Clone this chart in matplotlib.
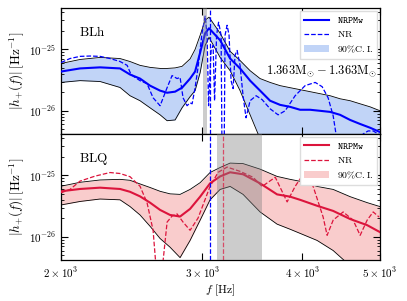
import matplotlib
matplotlib.use("Agg")
import matplotlib.pyplot as plt
from matplotlib.lines import Line2D
from matplotlib.patches import Patch
from matplotlib.ticker import NullLocator, NullFormatter, FixedLocator, LogLocator

# amplitudes are given in units of 1e-26 Hz^-1
UNIT = 1e-26

# ---- BLh (top panel) ----
f_blh = [2000, 2112, 2237, 2369, 2438, 2509, 2582, 2658, 2712, 2775, 2831, 2897, 2939,
         2982, 3025, 3059, 3158, 3250, 3344, 3442, 3542, 3645, 3751, 3861, 3973, 4089,
         4208, 4331, 4457, 4587, 4721, 4858, 5000]
blh_hi = [5.9, 6.85, 7.4, 7.1, 6.35, 5.5, 5.1, 4.9, 4.9, 5.0, 5.3, 7.0, 10.0,
          17.0, 29.9, 33.5, 18.3, 9.3, 6.6, 4.5, 3.35, 2.9, 2.57, 2.38, 2.21, 2.05,
          1.90, 1.76, 1.57, 1.46, 1.30, 1.16, 1.0]
blh_med = [4.36, 4.9, 5.1, 4.9, 3.9, 3.35, 2.57, 2.13, 1.97, 2.05, 2.38, 3.35, 4.36,
           8.9, 18.3, 22.1, 14.1, 7.1, 4.9, 3.1, 2.13, 1.46, 1.25, 1.16, 1.04, 1.04,
           1.0, 0.96, 0.86, 0.71, 0.61, 0.53, 0.45]
blh_lo = [2.9, 3.1, 3.0, 2.4, 1.76, 1.46, 1.12, 0.86, 0.69, 0.71, 1.12, 1.70, 2.13,
          4.2, 11.6, 15.7, 7.4, 4.5, 2.13, 0.86, 0.35, 0.25, 0.25, 0.25, 0.25, 0.25,
          0.25, 0.25, 0.25, 0.25, 0.25, 0.25, 0.25]

f_blh_nr = [2000, 2052, 2112, 2174, 2237, 2302, 2369, 2418, 2445, 2474, 2509, 2560, 2605,
            2658, 2712, 2751, 2791, 2815, 2839, 2872, 2897, 2914, 2939, 2964, 2999, 3025,
            3042, 3055, 3077, 3095, 3108, 3126, 3144, 3167, 3185, 3203, 3222, 3240, 3259,
            3278, 3296, 3316, 3344, 3373, 3402, 3442, 3502, 3563, 3645, 3730, 3806, 3917,
            4031, 4149, 4233, 4306, 4369, 4419, 4457, 4522, 4694, 4762, 4830, 4901, 4971, 5000]
blh_nr = [6.1, 7.1, 7.7, 7.8, 7.7, 7.1, 6.35, 5.5, 3.9, 3.5, 3.1, 2.77, 1.63,
          1.21, 2.38, 3.75, 3.35, 3.5, 1.63, 1.21, 1.35, 1.30, 2.38, 5.1, 19.0, 34.8,
          17.0, 1.21, 9.6, 11.6, 1.46, 17.0, 27.7, 17.0, 0.001, 17.0, 24.7, 17.0, 3.1,
          2.3, 8.0, 9.6, 5.5, 1.76, 0.77, 1.46, 1.76, 1.52, 1.08, 0.86, 1.0, 1.76,
          2.57, 2.9, 2.47, 1.63, 0.83, 0.32, 0.07, 0.04, 0.15, 0.42, 0.47, 0.47, 0.42, 0.40]

# ---- BLQ (bottom panel) ----
f_blq = [2000, 2112, 2237, 2369, 2438, 2509, 2582, 2658, 2735, 2815, 2897, 2982, 3068,
         3158, 3250, 3373, 3542, 3719, 3861, 3973, 4172, 4369, 4587, 4817, 5000]
blq_hi = [6.65, 7.7, 8.4, 8.6, 8.3, 7.25, 6.35, 5.5, 5.0, 4.9, 5.9, 7.6, 11.1,
          13.4, 15.8, 15.5, 12.6, 9.6, 8.6, 8.0, 6.6, 5.9, 4.5, 3.6, 3.1]
blq_med = [5.5, 6.0, 6.3, 6.0, 5.4, 4.55, 3.6, 2.74, 2.27, 2.14, 2.85, 4.5, 7.4,
           9.6, 11.2, 10.4, 7.4, 4.9, 4.5, 4.0, 3.2, 2.64, 1.95, 1.55, 1.19]
blq_lo = [3.3, 3.76, 4.12, 4.0, 3.11, 2.27, 1.49, 0.94, 0.68, 0.46, 0.875, 1.87, 4.0,
          5.9, 6.6, 4.9, 2.54, 1.61, 1.33, 1.14, 0.875, 0.60, 0.34, 0.23, 0.19]

f_blq_nr = [2000, 2052, 2112, 2205, 2302, 2369, 2438, 2509, 2560, 2605, 2635, 2658, 2681,
            2712, 2751, 2791, 2839, 2897, 2964, 3068, 3140, 3222, 3344, 3471, 3563, 3700,
            3828, 3917, 4008, 4125, 4245, 4294, 4369, 4496, 4627, 4721, 4817, 4901, 4985]
blq_nr = [5.2, 5.9, 8.05, 9.7, 11.1, 10.7, 9.5, 6.65, 3.6, 1.28, 0.2, 0.01, 0.41,
          1.74, 2.18, 2.36, 1.74, 1.28, 2.02, 6.6, 11.2, 13.6, 11.6, 9.3, 6.6, 9.3,
          3.7, 6.6, 10.4, 6.6, 2.1, 1.06, 1.87, 2.54, 1.87, 1.06, 1.87, 2.54, 2.1]

f_nr_blh = 3068      # blue dashed marker
f_nr_blq = 3185      # red dashed marker
band_blh = (3005, 3042)
band_blq = (3131, 3563)

plt.rcParams.update({
    "font.family": "serif",
    "font.serif": ["cmr10", "DejaVu Serif"],
    "mathtext.fontset": "cm",
    "axes.formatter.use_mathtext": True,
    "axes.unicode_minus": False,
    "xtick.direction": "in", "ytick.direction": "in",
    "xtick.top": True, "ytick.right": True,
    "xtick.major.size": 5, "ytick.major.size": 5,
    "xtick.minor.size": 2.5, "ytick.minor.size": 2.5,
    "xtick.labelsize": 8, "ytick.labelsize": 8,
    "axes.linewidth": 0.9,
})

fig = plt.figure(figsize=(4.07, 3.01), dpi=100)
ax1 = fig.add_axes([0.150, 0.555, 0.784, 0.418])
ax2 = fig.add_axes([0.150, 0.136, 0.784, 0.419], sharex=ax1)


def panel(ax, f, lo, med, hi, fnr, nr, line_c, fill_c, band, name):
    s = lambda v: [x * UNIT for x in v]
    ax.fill_between(f, s(lo), s(hi), color=fill_c, alpha=0.4, lw=0, zorder=1)
    ax.plot(f, s(hi), color="k", lw=0.6, zorder=2)
    ax.plot(f, s(lo), color="k", lw=0.6, zorder=2)
    ax.plot(f, s(med), color=line_c, lw=1.5, zorder=3)
    ax.plot(fnr, s(nr), color=line_c, lw=0.9, ls="--", zorder=3)
    ax.axvspan(band[0], band[1], color="gray", alpha=0.4, lw=0, zorder=4)
    ax.set_yscale("log")
    ax.set_ylim(4.2e-27, 4.7e-25)
    ax.yaxis.set_major_locator(FixedLocator([1e-26, 1e-25]))
    ax.yaxis.set_minor_locator(LogLocator(base=10, subs=range(2, 10)))
    ax.yaxis.set_minor_formatter(NullFormatter())
    ax.set_yticklabels([r"$10^{-26}$", r"$10^{-25}$"])
    ax.set_ylabel(r"$|h_{+}(f)|\,[\mathrm{Hz}^{-1}]$", fontsize=9.5, labelpad=2)
    ax.text(0.055, 0.78, r"$\mathrm{" + name + "}$", transform=ax.transAxes, fontsize=9.5)
    handles = [Line2D([], [], color=line_c, lw=1.5),
               Line2D([], [], color=line_c, lw=0.9, ls="--"),
               Patch(facecolor=fill_c, alpha=0.4, lw=0)]
    labels = [r"$\mathtt{NRPMw}$", r"$\mathrm{NR}$", r"$90\%\mathrm{C.I.}$"]
    ax.legend(handles, labels, loc="upper right", fontsize=7, frameon=True,
              fancybox=False, edgecolor="#dddddd", framealpha=1, borderaxespad=0.3,
              handlelength=2.6, labelspacing=0.45)


panel(ax1, f_blh, blh_lo, blh_med, blh_hi, f_blh_nr, blh_nr,
      "blue", "cornflowerblue", band_blh, "BLh")
panel(ax2, f_blq, blq_lo, blq_med, blq_hi, f_blq_nr, blq_nr,
      "crimson", "lightcoral", band_blq, "BLQ")

for ax in (ax1, ax2):
    ax.axvline(f_nr_blh, color="blue", lw=0.9, ls="--", zorder=5)
ax2.axvline(f_nr_blq, color="crimson", lw=0.9, ls="--", alpha=0.7, zorder=5)

ax1.text(0.99, 0.5, r"$1.363\mathrm{M}_{\odot}-1.363\mathrm{M}_{\odot}$",
         transform=ax1.transAxes, ha="right", va="center", fontsize=9)

ax2.set_xscale("log")
ax2.set_xlim(2000, 5000)
ax2.xaxis.set_major_locator(FixedLocator([2000, 3000, 4000, 5000]))
ax2.set_xticklabels([r"$2\times10^{3}$", r"$3\times10^{3}$", r"$4\times10^{3}$", r"$5\times10^{3}$"])
ax2.xaxis.set_minor_locator(NullLocator())
ax1.tick_params(axis="x", which="both", labelbottom=False)
ax2.set_xlabel(r"$f\ [\mathrm{Hz}]$", fontsize=8.5, labelpad=2)

fig.savefig("out.png", dpi=100)
